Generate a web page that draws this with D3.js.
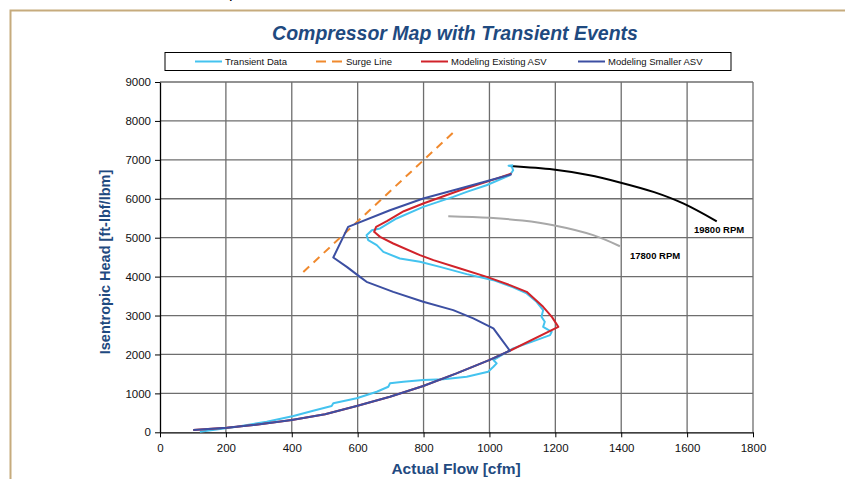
<!DOCTYPE html>
<html>
<head>
<meta charset="utf-8">
<script src="https://d3js.org/d3.v7.min.js"></script>
<style>
  body { margin: 0; background: #fff; }
  text { font-family: "Liberation Sans", Arial, sans-serif; }
</style>
</head>
<body>
<svg id="svg" width="845" height="479"></svg>
<script>
// ---- data (flow in cfm, head in ft-lbf/lbm) ----
var xTicks = [0, 200, 400, 600, 800, 1000, 1200, 1400, 1600, 1800];
var yTicks = [0, 1000, 2000, 3000, 4000, 5000, 6000, 7000, 8000, 9000];

var transientData = [
  [121, 15], [160, 60], [233, 144], [324, 272], [405, 418], [465, 555], [521, 675],
  [526, 744], [597, 873], [658, 1042], [693, 1171], [698, 1258], [739, 1299],
  [799, 1342], [860, 1360], [931, 1427], [996, 1556], [1012, 1684], [1022, 1771],
  [1012, 1856], [1042, 2010], [1072, 2156], [1130, 2330], [1184, 2498], [1189, 2583],
  [1163, 2711], [1168, 2840], [1158, 2968], [1163, 3139], [1143, 3353], [1113, 3568],
  [1072, 3722], [1012, 3909], [931, 4064], [850, 4251], [789, 4380], [728, 4466],
  [678, 4636], [658, 4808], [632, 4936], [627, 5065], [643, 5193], [668, 5237],
  [718, 5494], [799, 5791], [890, 6048], [931, 6177], [991, 6348], [1062, 6605],
  [1072, 6733], [1067, 6836], [1058, 6850], [1072, 6860]
];
var surgeLine = [[435, 4120], [900, 7780]];
var existingAsv = [
  [101, 59], [202, 118], [303, 205], [400, 316], [501, 462], [597, 675], [698, 914],
  [799, 1189], [900, 1514], [999, 1856], [1062, 2095], [1209, 2711], [1190, 2960],
  [1163, 3224], [1113, 3609], [1062, 3781], [992, 3994], [911, 4210], [830, 4423],
  [789, 4551], [708, 4851], [668, 5021], [650, 5150], [656, 5280], [690, 5430],
  [740, 5680], [799, 5878], [911, 6220], [991, 6433], [1067, 6649]
];
var smallerAsv = [
  [101, 59], [202, 118], [303, 205], [400, 316], [501, 462], [597, 675], [698, 914],
  [799, 1189], [900, 1514], [999, 1856], [1062, 2095], [1027, 2498], [1012, 2669],
  [992, 2754], [951, 2926], [890, 3139], [799, 3353], [708, 3609], [627, 3866],
  [607, 3994], [567, 4251], [526, 4492], [571, 5278], [698, 5706], [799, 6006],
  [911, 6263], [1002, 6476], [1067, 6630]
];
var rpm19800 = [[1062, 6840], [1194, 6750], [1300, 6610], [1396, 6420], [1500, 6170], [1588, 5880], [1690, 5420]];
var rpm17800 = [[875, 5553], [1000, 5510], [1100, 5440], [1194, 5320], [1315, 5065], [1396, 4780]];

var legendItems = [
  { name: "Transient Data", color: "#44c3ef", dash: null },
  { name: "Surge Line", color: "#f0892d", dash: "8,6" },
  { name: "Modeling Existing ASV", color: "#d1232a", dash: null },
  { name: "Modeling Smaller ASV", color: "#3c4fa2", dash: null }
];

// ---- layout ----
var svg = d3.select("#svg");
var x = d3.scaleLinear().domain([0, 1800]).range([160, 753]);
var y = d3.scaleLinear().domain([0, 9000]).range([432.3, 82]);
var line = d3.line().x(function(d){ return x(d[0]); }).y(function(d){ return y(d[1]); });

// page frame (cropped document page)
svg.append("path").attr("d", "M10.5 479 L10.5 10.5 L845 10.5")
   .attr("fill", "none").attr("stroke", "#c6ab7d").attr("stroke-width", 2);
svg.append("text").attr("x", 229).attr("y", -2).attr("font-family", "Liberation Serif")
   .attr("font-size", 16).text("p");

// title
svg.append("text").attr("x", 455).attr("y", 40).attr("text-anchor", "middle")
   .attr("font-size", 19.5).attr("font-weight", "bold").attr("font-style", "italic")
   .attr("fill", "#1f4a80").text("Compressor Map with Transient Events");

// grid
var grid = svg.append("g");
grid.selectAll(".gx").data(xTicks.slice(1)).enter().append("line")
    .attr("x1", function(d){ return x(d); }).attr("x2", function(d){ return x(d); })
    .attr("y1", y(0)).attr("y2", y(9000))
    .attr("stroke", "#6e6e6e").attr("stroke-width", 1.3);
grid.selectAll(".gy").data(yTicks.slice(1)).enter().append("line")
    .attr("x1", x(0)).attr("x2", x(1800))
    .attr("y1", function(d){ return y(d); }).attr("y2", function(d){ return y(d); })
    .attr("stroke", "#6e6e6e").attr("stroke-width", 1.3);

// axes
var fmt = d3.format("d");
var xAxis = svg.append("g").attr("transform", "translate(0," + y(0) + ")")
   .call(d3.axisBottom(x).tickValues(xTicks).tickFormat(fmt).tickSize(5).tickPadding(7).tickSizeOuter(0));
var yAxis = svg.append("g").attr("transform", "translate(" + x(0) + ",0)")
   .call(d3.axisLeft(y).tickValues(yTicks).tickFormat(fmt).tickSize(5).tickPadding(4).tickSizeOuter(0));
[xAxis, yAxis].forEach(function(a){
  a.select(".domain").attr("stroke", "#000").attr("stroke-width", 1.3);
  a.selectAll(".tick line").attr("stroke", "#000");
  a.selectAll(".tick text").attr("font-size", 11.5).attr("fill", "#111")
   .attr("font-family", "Liberation Sans, Arial, sans-serif");
});

svg.append("text").attr("x", 456).attr("y", 474).attr("text-anchor", "middle")
   .attr("font-size", 15.5).attr("font-weight", "bold").attr("fill", "#1f4a80")
   .text("Actual Flow [cfm]");
svg.append("text").attr("transform", "translate(110,262) rotate(-90)")
   .attr("text-anchor", "middle").attr("font-size", 14.5).attr("font-weight", "bold")
   .attr("fill", "#1f4a80").text("Isentropic Head [ft-lbf/lbm]");

// speed lines
var smooth = d3.line().curve(d3.curveCatmullRom)
   .x(function(d){ return x(d[0]); }).y(function(d){ return y(d[1]); });
svg.append("path").attr("d", smooth(rpm17800)).attr("fill", "none")
   .attr("stroke", "#a8a8a8").attr("stroke-width", 2);
svg.append("path").attr("d", smooth(rpm19800)).attr("fill", "none")
   .attr("stroke", "#000").attr("stroke-width", 2);
svg.append("text").attr("x", 694).attr("y", 233).attr("font-size", 9.5).attr("font-weight", "bold").text("19800 RPM");
svg.append("text").attr("x", 630).attr("y", 259).attr("font-size", 9.5).attr("font-weight", "bold").text("17800 RPM");

// series
var series = [transientData, surgeLine, existingAsv, smallerAsv];
series.forEach(function(s, i){
  svg.append("path").attr("d", line(s)).attr("fill", "none")
     .attr("stroke", legendItems[i].color).attr("stroke-width", 2)
     .attr("stroke-dasharray", legendItems[i].dash)
     .attr("stroke-linejoin", "round");
});

// legend
var lg = svg.append("g");
lg.append("rect").attr("x", 165).attr("y", 52.5).attr("width", 566).attr("height", 18)
  .attr("fill", "#fff").attr("stroke", "#000").attr("stroke-width", 1);
var legendX = [195, 316, 421, 578];
legendItems.forEach(function(d, i){
  lg.append("line").attr("x1", legendX[i]).attr("x2", legendX[i] + 27)
    .attr("y1", 61.5).attr("y2", 61.5).attr("stroke", d.color).attr("stroke-width", 2)
    .attr("stroke-dasharray", d.dash ? "10,6" : null);
  lg.append("text").attr("x", legendX[i] + 30).attr("y", 65).attr("font-size", 9.5)
    .attr("fill", "#111").text(d.name);
});
</script>
</body>
</html>
